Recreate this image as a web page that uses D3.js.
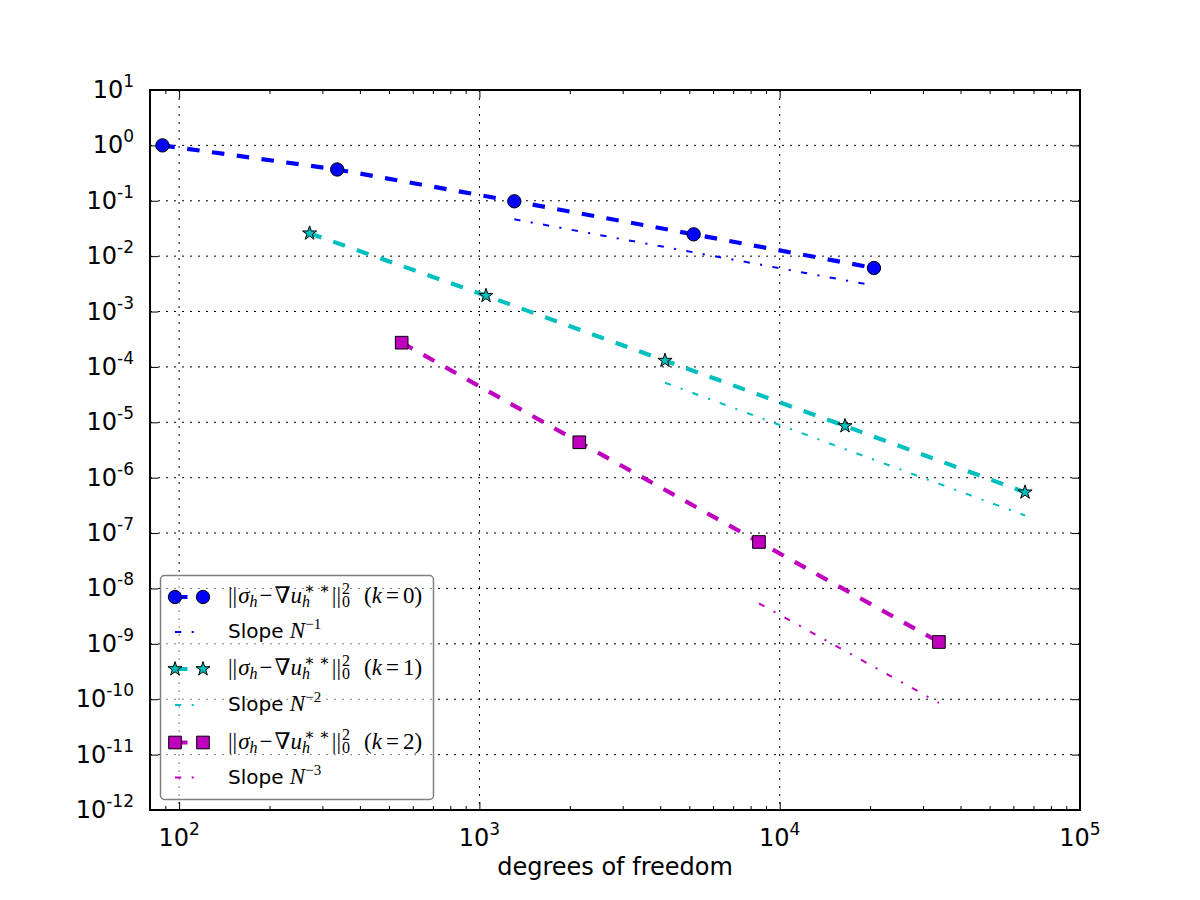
<!DOCTYPE html>
<html>
<head>
<meta charset="utf-8">
<script src="https://cdn.jsdelivr.net/npm/d3@7"></script>
<style>
  body { margin: 0; background: #fff; }
  svg { display: block; }
</style>
</head>
<body>
<div id="chart"></div>
<script>
// data
var dofK0 = [88, 336, 1307, 5170, 20600];
var errK0 = [1.0, 0.367, 0.0978, 0.0248, 0.00611];
var dofK1 = [272, 1052, 4150, 16500, 65600];
var errK1 = [0.0259, 0.00193, 1.30e-4, 8.58e-6, 5.45e-7];
var dofK2 = [551, 2151, 8530, 33900];
var errK2 = [2.74e-4, 4.36e-6, 6.9e-8, 1.08e-9];

// reference slope lines (end points)
var slopeDof1 = [1307, 20600];
var slopeErr1 = [0.0463, 0.00294];
var slopeDof2 = [4150, 65600];
var slopeErr2 = [5.19e-5, 2.08e-7];
var slopeDof3 = [8530, 33900];
var slopeErr3 = [5.40e-9, 8.6e-11];

var xExp = [2, 3, 4, 5];
var yExp = [1, 0, -1, -2, -3, -4, -5, -6, -7, -8, -9, -10, -11, -12];
var xMinor = [80, 90, 200, 300, 400, 500, 600, 700, 800, 900,
  2000, 3000, 4000, 5000, 6000, 7000, 8000, 9000,
  20000, 30000, 40000, 50000, 60000, 70000, 80000, 90000];
var kLabels = ["0", "1", "2"];
var slopeExp = ["\u22121", "\u22122", "\u22123"];
var xTitle = "degrees of freedom";

var W = 1200, H = 900;
var mLeft = 150, mRight = 1080, mTop = 90, mBottom = 810;

var svg = d3.select("#chart").append("svg")
  .attr("width", W)
  .attr("height", H)
  .style("background", "#fff");

var x = d3.scaleLog().domain([80, 1e5]).range([mLeft, mRight]);
var y = d3.scaleLog().domain([1e-12, 10]).range([mBottom, mTop]);

var xMajor = xExp.map(function(e) { return Math.pow(10, e); });
var yMajor = yExp.map(function(e) { return Math.pow(10, e); });

// grid
var grid = svg.append("g").attr("class", "grid")
  .attr("stroke", "#000")
  .attr("stroke-width", 1)
  .attr("stroke-dasharray", "2,6");
grid.selectAll("line.gx").data(xMajor).enter().append("line")
  .attr("class", "gx")
  .attr("x1", function(d) { return x(d); }).attr("x2", function(d) { return x(d); })
  .attr("y1", mTop).attr("y2", mBottom);
grid.selectAll("line.gy").data(yMajor).enter().append("line")
  .attr("class", "gy")
  .attr("y1", function(d) { return y(d); }).attr("y2", function(d) { return y(d); })
  .attr("x1", mLeft).attr("x2", mRight);

// ticks, all pointing inward, on all four sides
function ticks(axis, tr) {
  var g = svg.append("g").attr("transform", tr).call(axis);
  g.select(".domain").remove();
  g.selectAll("text").remove();
  g.selectAll("line").attr("stroke", "#000").attr("stroke-width", 1);
  return g;
}
ticks(d3.axisBottom(x).tickValues(xMajor).tickSize(-8), "translate(0," + mBottom + ")");
ticks(d3.axisBottom(x).tickValues(xMinor).tickSize(-4), "translate(0," + mBottom + ")");
ticks(d3.axisTop(x).tickValues(xMajor).tickSize(-8), "translate(0," + mTop + ")");
ticks(d3.axisTop(x).tickValues(xMinor).tickSize(-4), "translate(0," + mTop + ")");
ticks(d3.axisLeft(y).tickValues(yMajor).tickSize(-8), "translate(" + mLeft + ",0)");
ticks(d3.axisRight(y).tickValues(yMajor).tickSize(-8), "translate(" + mRight + ",0)");

// tick labels: 10 with superscript exponent
function powLabel(g, e) {
  g.append("tspan").text("10");
  g.append("tspan").attr("dy", -11).attr("font-size", 17).text(String(e));
}
svg.append("g").selectAll("text").data(xExp).enter().append("text")
  .attr("x", function(d) { return x(Math.pow(10, d)); })
  .attr("y", 846)
  .attr("text-anchor", "middle")
  .attr("font-family", "DejaVu Sans")
  .attr("font-size", 24)
  .each(function(d) { powLabel(d3.select(this), d); });
svg.append("g").selectAll("text").data(yExp).enter().append("text")
  .attr("x", 134)
  .attr("y", function(d) { return y(Math.pow(10, d)) + 8; })
  .attr("text-anchor", "end")
  .attr("font-family", "DejaVu Sans")
  .attr("font-size", 24)
  .each(function(d) { powLabel(d3.select(this), d); });

svg.append("text")
  .attr("x", (mLeft + mRight) / 2)
  .attr("y", 875)
  .attr("text-anchor", "middle")
  .attr("font-family", "DejaVu Sans")
  .attr("font-size", 24)
  .text(xTitle);

// series
var series = [
  {dof: dofK0, err: errK0, sd: slopeDof1, se: slopeErr1, color: "#0000ff", marker: "circle"},
  {dof: dofK1, err: errK1, sd: slopeDof2, se: slopeErr2, color: "#00bfbf", marker: "star"},
  {dof: dofK2, err: errK2, sd: slopeDof3, se: slopeErr3, color: "#bf00bf", marker: "square"}
];

var line = d3.line()
  .x(function(d) { return x(d[0]); })
  .y(function(d) { return y(d[1]); });

function drawMarker(g, type, cx, cy, color) {
  var sym;
  if (type == "circle") sym = d3.symbol(d3.symbolCircle, 140);
  else if (type == "star") sym = d3.symbol(d3.symbolStar, 62);
  else sym = d3.symbol(d3.symbolSquare, 160);
  g.append("path")
    .attr("d", sym())
    .attr("transform", "translate(" + cx + "," + cy + ")")
    .attr("fill", color)
    .attr("stroke", "#000")
    .attr("stroke-width", 1);
}

var plot = svg.append("g");
series.forEach(function(s) {
  var pts = d3.zip(s.dof, s.err);
  plot.append("path")
    .attr("d", line(pts))
    .attr("fill", "none")
    .attr("stroke", s.color)
    .attr("stroke-width", 4.2)
    .attr("stroke-dasharray", "12.5,12.5");
  pts.forEach(function(p) { drawMarker(plot, s.marker, x(p[0]), y(p[1]), s.color); });
  plot.append("path")
    .attr("d", line(d3.zip(s.sd, s.se)))
    .attr("fill", "none")
    .attr("stroke", s.color)
    .attr("stroke-width", 2)
    .attr("stroke-dasharray", "6.25,10.4,2.1,10.4");
});

// frame
svg.append("rect")
  .attr("x", mLeft).attr("y", mTop)
  .attr("width", mRight - mLeft).attr("height", mBottom - mTop)
  .attr("fill", "none")
  .attr("stroke", "#000")
  .attr("stroke-width", 2);

// legend
var leg = svg.append("g");
leg.append("rect")
  .attr("x", 160.5).attr("y", 575.5)
  .attr("width", 273).attr("height", 224)
  .attr("rx", 4).attr("ry", 4)
  .attr("fill", "#fff").attr("fill-opacity", 0.5)
  .attr("stroke", "#808080").attr("stroke-width", 1.5);

var rowY = [597, 632, 669, 705, 742.5, 777.5];
var serif = "Liberation Serif, DejaVu Serif, serif";

function mathText(g, tx, ty, parts) {
  var t = g.append("text").attr("x", tx).attr("y", ty)
    .attr("font-family", serif).attr("font-size", 23).attr("fill", "#000");
  var cur = 0;
  parts.forEach(function(p) {
    var sp = t.append("tspan").text(p.t).attr("dy", (p.o || 0) - cur);
    cur = p.o || 0;
    if (p.it) sp.attr("font-style", "italic");
    if (p.sz) sp.attr("font-size", p.sz);
    if (p.dx) sp.attr("dx", p.dx);
    if (p.f) sp.attr("font-family", p.f);
  });
  return t;
}

series.forEach(function(s, i) {
  var ya = rowY[i * 2], yb = rowY[i * 2 + 1];
  // handle of the data line
  leg.append("line")
    .attr("x1", 175).attr("x2", 203).attr("y1", ya).attr("y2", ya)
    .attr("stroke", s.color).attr("stroke-width", 4.2)
    .attr("stroke-dasharray", "12.5,12.5");
  drawMarker(leg, s.marker, 175, ya, s.color);
  drawMarker(leg, s.marker, 203, ya, s.color);
  // handle of the slope line
  leg.append("line")
    .attr("x1", 175).attr("x2", 203).attr("y1", yb).attr("y2", yb)
    .attr("stroke", s.color).attr("stroke-width", 2)
    .attr("stroke-dasharray", "6.25,10.4,2.1,10.4");

  mathText(leg, 228, ya + 6, [
    {t: "||"},
    {t: "\u03c3", it: true, dx: 1},
    {t: "h", it: true, sz: 16, o: 4},
    {t: "\u2212", dx: 2},
    {t: "\u2207", dx: 2},
    {t: "u", it: true},
    {t: "h", it: true, sz: 16, o: 4},
    {t: "\u2217 \u2217", sz: 16, o: -9, dx: -6},
    {t: "||", dx: 2},
    {t: "0", sz: 16, o: 4, dx: 1},
    {t: "2", sz: 16, o: -9, dx: -8},
    {t: "(", dx: 14},
    {t: "k", it: true},
    {t: "=", dx: 4},
    {t: kLabels[i], dx: 4},
    {t: ")"}
  ]);
  mathText(leg, 228, yb + 6, [
    {t: "Slope ", f: "DejaVu Sans", sz: 20},
    {t: "N", it: true},
    {t: slopeExp[i], sz: 15, o: -9}
  ]);
});
</script>
</body>
</html>
